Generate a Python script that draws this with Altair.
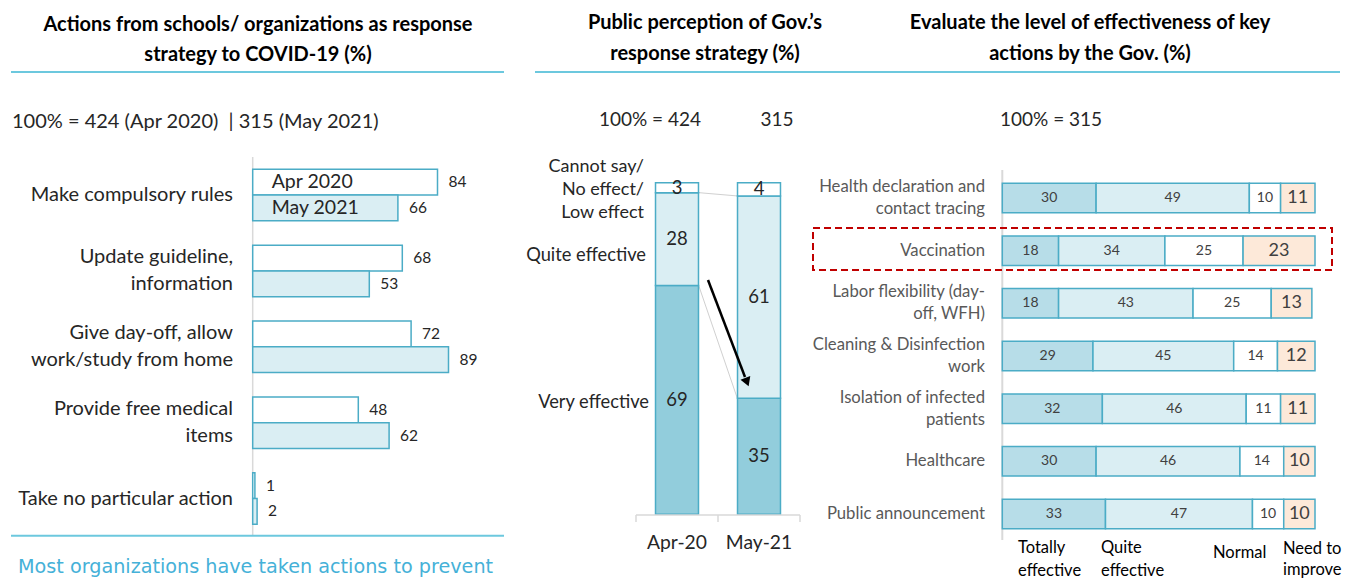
import altair as alt
import pandas as pd

# ---------------- data ----------------
# Panel 1: actions from schools / organizations
actions = ["Make compulsory rules", "Update guideline, information",
           "Give day-off, allow work/study from home", "Provide free medical items",
           "Take no particular action"]
action_labels = ["Make compulsory rules", "Update guideline,\ninformation",
                 "Give day-off, allow\nwork/study from home", "Provide free medical\nitems",
                 "Take no particular action"]
series = ["Apr 2020", "May 2021"]
apr_2020 = [84, 68, 72, 48, 1]
may_2021 = [66, 53, 89, 62, 2]

# Panel 2: public perception of Gov.'s response strategy
periods = ["Apr-20", "May-21"]
perception_levels = ["Very effective", "Quite effective", "Cannot say/ No effect/ Low effect"]
very_effective = [69, 35]
quite_effective = [28, 61]
cannot_say = [3, 4]

# Panel 3: effectiveness of key actions by the Gov.
gov_actions = ["Health declaration and contact tracing", "Vaccination",
               "Labor flexibility (day-off, WFH)", "Cleaning & Disinfection work",
               "Isolation of infected patients", "Healthcare", "Public announcement"]
gov_labels = ["Health declaration and\ncontact tracing", "Vaccination",
              "Labor flexibility (day-\noff, WFH)", "Cleaning & Disinfection\nwork",
              "Isolation of infected\npatients", "Healthcare", "Public announcement"]
levels = ["Totally effective", "Quite effective", "Normal", "Need to improve"]
legend_labels = ["Totally\neffective", "Quite\neffective", "Normal", "Need to\nimprove"]
totally = [30, 18, 18, 29, 32, 30, 33]
quite = [49, 34, 43, 45, 46, 46, 47]
normal = [10, 25, 25, 14, 11, 14, 10]
improve = [11, 23, 13, 12, 11, 10, 10]

# ---------------- styles ----------------
FONT = "Lato"
TEAL = "#4bacc6"
RULE_BLUE = "#6cc8de"
LIGHT = "#daeef3"
MID = "#b7dde8"
DARK = "#92cddc"
PEACH = "#fde9d9"
GRID = "#d9d9d9"
TXT = "#262626"
H = 573
ONE = alt.Data(values=[{"k": 0}])


def label(text, x, y, size=16, weight="normal", color=TXT, align="center",
          font=FONT, baseline="middle", line_height=None, clip=False):
    kw = dict(text=text, fontSize=size, fontWeight=weight, color=color, align=align,
              font=font, baseline=baseline, lineBreak="\n", clip=clip)
    if line_height:
        kw["lineHeight"] = line_height
    return alt.Chart(ONE).mark_text(**kw).encode(x=alt.value(x), y=alt.value(y))


def hline(x1, x2, y, color=RULE_BLUE, width=2):
    return alt.Chart(ONE).mark_rule(color=color, strokeWidth=width).encode(
        x=alt.value(x1), x2=alt.value(x2), y=alt.value(y))


def vline(x, y1, y2, color=GRID, width=1.5):
    return alt.Chart(ONE).mark_rule(color=color, strokeWidth=width).encode(
        x=alt.value(x), y=alt.value(y1), y2=alt.value(y2))


def category_labels(df, scale, x, size, color, line_height):
    """Right-aligned category labels, multi-line blocks centred on their band."""
    layers = []
    for n in (1, 2):
        layers.append(
            alt.Chart(df).transform_filter(alt.datum.nlines == n).mark_text(
                align="right", fontSize=size, font=FONT, color=color, lineBreak="\n",
                lineHeight=line_height, dy=-(n - 1) * line_height / 2).encode(
                x=alt.value(x), y=alt.Y("action:N", scale=scale, axis=None), text="label:N")
        )
    return layers


# ---------------- panel 1 ----------------
df1_lab = pd.DataFrame({"action": actions, "label": action_labels,
                        "nlines": [l.count("\n") + 1 for l in action_labels]})

x1 = alt.Scale(domain=[0, 100], range=[244.7, 464.7])
GROUP_RANGE = [149.05, 528.55]
HALF = 12.875
y1 = alt.Scale(domain=actions, range=GROUP_RANGE, paddingInner=0.3215, paddingOuter=0.16)

series_layers = []
for s_i, (s_name, s_vals, s_fill) in enumerate(zip(series, [apr_2020, may_2021], ["white", LIGHT])):
    shift = -HALF if s_i == 0 else HALF
    ys = alt.Scale(domain=actions, range=[GROUP_RANGE[0] + shift, GROUP_RANGE[1] + shift],
                   paddingInner=0.6607, paddingOuter=0.33)
    d = pd.DataFrame({"action": actions, "value": s_vals, "series": s_name})
    b = alt.Chart(d).encode(y=alt.Y("action:N", scale=ys, axis=None))
    series_layers.append(
        alt.layer(
            b.mark_bar(stroke=TEAL, strokeWidth=1.5, fill=s_fill).encode(
                x=alt.X("value:Q", scale=x1, axis=None)),
            b.mark_text(align="left", dx=11, fontSize=15.5, font=FONT, color=TXT).encode(
                x=alt.X("value:Q", scale=x1, axis=None), text="value:Q"),
            b.transform_filter(alt.datum.action == actions[0]).mark_text(
                align="left", fontSize=19.5, font=FONT, color=TXT).encode(
                x=alt.value(263.7), text="series:N"),
        )
    )

p1 = alt.layer(
    label("Actions from schools/ organizations as response", 250, 17, size=20, weight="bold", color="black"),
    label("strategy to COVID-19 (%)", 250, 47, size=20, weight="bold", color="black"),
    hline(3, 496, 64),
    label("100% = 424 (Apr 2020)\u00a0\u00a0| 315 (May 2021)", 4, 114, size=20, align="left"),
    vline(244.7, 149, 528),
    *series_layers,
    *category_labels(df1_lab, y1, 225, 20, TXT, 27),
    hline(3, 496, 527.7),
    label("Most organizations have taken actions to prevent", 10, 559, size=19.2,
          color="#45b1d8", align="left", font="DejaVu Sans", clip=True),
).resolve_scale(y="independent").properties(width=512, height=H)

# ---------------- panel 2 ----------------
rows2 = []
for i, p in enumerate(periods):
    for k, (lev, arr) in enumerate(zip(perception_levels, [very_effective, quite_effective, cannot_say])):
        rows2.append({"period": p, "level": lev, "value": arr[i], "order": k})
df2 = pd.DataFrame(rows2)
df_conn = pd.DataFrame({
    "ya": [very_effective[0], very_effective[0] + quite_effective[0]],
    "yb": [very_effective[1], very_effective[1] + quite_effective[1]],
})

x2s = alt.Scale(domain=periods, range=[116, 280], paddingInner=0.476, paddingOuter=0.238)
y2s = alt.Scale(domain=[0, 100], range=[506.3, 174.7])

stack2 = alt.Chart(df2).transform_stack(
    stack="value", groupby=["period"], as_=["y0", "y1"],
    sort=[alt.SortField("order", order="ascending")]
).transform_calculate(mid="(datum.y0 + datum.y1) / 2")

bars2 = stack2.mark_bar(stroke=TEAL, strokeWidth=1.5).encode(
    x=alt.X("period:N", scale=x2s, axis=None),
    y=alt.Y("y0:Q", scale=y2s, axis=None), y2="y1:Q",
    fill=alt.Fill("level:N", scale=alt.Scale(domain=perception_levels, range=[DARK, LIGHT, "white"]),
                  legend=None),
)
vals2 = stack2.mark_text(fontSize=18.5, font=FONT, color=TXT).encode(
    x=alt.X("period:N", scale=x2s, axis=None),
    y=alt.Y("mid:Q", scale=y2s, axis=None), text="value:Q")
conn = alt.Chart(df_conn).mark_rule(color="#d0d0d0", strokeWidth=1).encode(
    x=alt.value(178.7), x2=alt.value(217.3),
    y=alt.Y("ya:Q", scale=y2s, axis=None), y2="yb:Q")
arrow = alt.Chart(ONE).mark_rule(color="black", strokeWidth=2.5).encode(
    x=alt.value(188), y=alt.value(272), x2=alt.value(225), y2=alt.value(369))
arrow_head = alt.Chart(ONE).mark_point(shape="triangle-down", filled=True, color="black",
                                        size=110, angle=339, opacity=1).encode(
    x=alt.value(227), y=alt.value(374))
axis_lab2 = alt.Chart(pd.DataFrame({"period": periods})).mark_text(
    fontSize=19.3, font=FONT, color=TXT).encode(
    x=alt.X("period:N", scale=x2s, axis=None), y=alt.value(535), text="period:N")

p2 = alt.layer(
    label("Public perception of Gov.\u2019s", 185, 15, size=20, weight="bold", color="black"),
    label("response strategy (%)", 185, 46, size=20, weight="bold", color="black"),
    hline(15, 280, 64),
    label("100% = 424", 130, 112, size=19),
    label("315", 257, 112, size=19),
    label("Cannot say/\nNo effect/\nLow effect", 124, 159, size=18, align="right", line_height=23),
    label("Quite effective", 126, 248, size=18.3, align="right"),
    label("Very effective", 129, 395, size=18.3, align="right"),
    conn, bars2, vals2, arrow, arrow_head,
    hline(116, 280, 507, color=GRID, width=1.5),
    vline(116, 507, 514), vline(198, 507, 514), vline(280, 507, 514),
    axis_lab2,
).properties(width=280, height=H)

# ---------------- panel 3 ----------------
rows3 = []
for i, a in enumerate(gov_actions):
    for k, (lev, arr) in enumerate(zip(levels, [totally, quite, normal, improve])):
        rows3.append({"action": a, "level": lev, "value": arr[i], "order": k})
df3 = pd.DataFrame(rows3)
df3_lab = pd.DataFrame({"action": gov_actions, "label": gov_labels,
                        "nlines": [l.count("\n") + 1 for l in gov_labels]})

x3 = alt.Scale(domain=[0, 100], range=[202.3, 515])
y3 = alt.Scale(domain=gov_actions, range=[163.67, 532.33], paddingInner=0.44, paddingOuter=0.22)

stack3 = alt.Chart(df3).transform_stack(
    stack="value", groupby=["action"], as_=["x0", "x1"],
    sort=[alt.SortField("order", order="ascending")]
).transform_calculate(mid="(datum.x0 + datum.x1) / 2")

bars3 = stack3.mark_bar(stroke=TEAL, strokeWidth=1.5).encode(
    x=alt.X("x0:Q", scale=x3, axis=None), x2="x1:Q",
    y=alt.Y("action:N", scale=y3, axis=None),
    fill=alt.Fill("level:N", scale=alt.Scale(domain=levels, range=[MID, LIGHT, "white", PEACH]),
                  legend=None),
)
vals3_small = stack3.transform_filter(alt.datum.level != levels[3]).mark_text(
    fontSize=14, font=FONT, color="#404040").encode(
    x=alt.X("mid:Q", scale=x3, axis=None), y=alt.Y("action:N", scale=y3, axis=None), text="value:Q")
vals3_big = stack3.transform_filter(alt.datum.level == levels[3]).mark_text(
    fontSize=18, font=FONT, color="#404040").encode(
    x=alt.X("mid:Q", scale=x3, axis=None), y=alt.Y("action:N", scale=y3, axis=None), text="value:Q")
box = alt.Chart(ONE).mark_rect(fillOpacity=0, stroke="#c00000", strokeWidth=2,
                               strokeDash=[7, 4]).encode(
    x=alt.value(13), x2=alt.value(532), y=alt.value(220), y2=alt.value(262))

legend_x = [218, 301, 413, 483]
legend_top = [532, 532, 545, 533]
legend_lh = [23, 23, 23, 21]
legend_layers = []
for lab_txt, lx, ly, lh in zip(legend_labels, legend_x, legend_top, legend_lh):
    n = lab_txt.count("\n") + 1
    legend_layers.append(label(lab_txt, lx, ly, size=16.5, color="black",
                               align="left", baseline="middle" if n == 1 else "top",
                               line_height=lh, clip=True))

p3 = alt.layer(
    label("Evaluate the level of effectiveness of key", 290, 15, size=20, weight="bold", color="black"),
    label("actions by the Gov. (%)", 290, 46, size=20, weight="bold", color="black"),
    hline(0, 540, 64),
    label("100% = 315", 200, 112, size=19, align="left"),
    vline(202.3, 162, 532, width=2),
    bars3, vals3_small, vals3_big,
    *category_labels(df3_lab, y3, 185, 16.7, "#595959", 22),
    box,
    *legend_layers,
).properties(width=551, height=H)

chart = alt.hconcat(p1, p2, p3, spacing=0, bounds="flush").resolve_scale(
    fill="independent").properties(padding=0).configure_view(stroke=None)
chart.save("out.html", embed_options={"renderer": "svg", "actions": False})
